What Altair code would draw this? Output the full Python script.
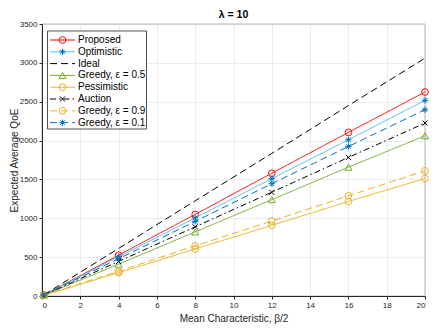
import altair as alt
import pandas as pd

x_vals = [0.1, 4, 8, 12, 16, 20]
series_names = ["Proposed", "Optimistic", "Ideal", "Greedy, \u03b5 = 0.5",
                "Pessimistic", "Auction", "Greedy, \u03b5 = 0.9", "Greedy, \u03b5 = 0.1"]
proposed = [13, 525, 1050, 1580, 2105, 2625]
optimistic = [13, 505, 1005, 1510, 2010, 2517]
ideal = [15, 612, 1225, 1835, 2450, 3060]
greedy05 = [10, 410, 825, 1240, 1658, 2062]
pessimistic = [8, 300, 605, 910, 1216, 1512]
auction = [11, 445, 890, 1335, 1783, 2225]
greedy09 = [8, 320, 645, 965, 1289, 1611]
greedy01 = [12, 480, 960, 1445, 1924, 2397]
values = [proposed, optimistic, ideal, greedy05, pessimistic, auction, greedy09, greedy01]
x_ticks = list(range(0, 21, 2))
y_ticks = list(range(0, 3501, 500))

ASTER = "M0,-1L0,1M-1,0L1,0M-0.7,-0.7L0.7,0.7M-0.7,0.7L0.7,-0.7"
XMARK = "M-0.8,-0.8L0.8,0.8M-0.8,0.8L0.8,-0.8"
styles = [
    dict(color="#FF0000", mcolor="#FF0000", dash=[1, 0], shape="circle", size=45),
    dict(color="#4DBEEE", mcolor="#0072BD", dash=[1, 0], shape=ASTER, size=40),
    dict(color="#000000", mcolor=None, dash=[7, 4], shape=None, size=0),
    dict(color="#77AC30", mcolor="#77AC30", dash=[1, 0], shape="triangle-up", size=50),
    dict(color="#EDB120", mcolor="#EDB120", dash=[1, 0], shape="circle", size=45),
    dict(color="#000000", mcolor="#000000", dash=[6, 3, 1.5, 3], shape=XMARK, size=40),
    dict(color="#EDB120", mcolor="#EDB120", dash=[7, 4], shape="circle", size=45),
    dict(color="#0072BD", mcolor="#0072BD", dash=[7, 4], shape=ASTER, size=40),
]

rows = []
for name, vals in zip(series_names, values):
    for xv, yv in zip(x_vals, vals):
        rows.append({"series": name, "x": xv, "y": yv})
df = pd.DataFrame(rows)

xscale = alt.Scale(domain=[0, 20], nice=False, zero=False)
yscale = alt.Scale(domain=[0, 3500], nice=False)
font = "Liberation Sans"

x_axis = alt.Axis(values=x_ticks, title="Mean Characteristic, \u03b2/2", format="d",
                  labelOverlap=False, titlePadding=4)
y_axis = alt.Axis(values=y_ticks, title="Expected Average QoE", format="d",
                  labelOverlap=False, titlePadding=0)

def X(field="x"):
    return alt.X(f"{field}:Q", scale=xscale, axis=x_axis)

def Y(field="y"):
    return alt.Y(f"{field}:Q", scale=yscale, axis=y_axis)

layers = []
for name, st in zip(series_names, styles):
    sub = df[df.series == name]
    layers.append(alt.Chart(sub).mark_line(color=st["color"], strokeDash=st["dash"], strokeWidth=1).encode(
        x=X(), y=Y(), order="x:Q"))
    if st["shape"]:
        layers.append(alt.Chart(sub).mark_point(shape=st["shape"], size=st["size"], filled=False,
                                                color=st["mcolor"], strokeWidth=1, opacity=1).encode(
            x=X(), y=Y()))

# legend (in data coordinates)
px_per_x = 383 / 20
val_per_px = 3500 / 272
def dx(px):
    return (px - 42) / px_per_x
def dy(py):
    return (296 - py) * val_per_px

legend_box = pd.DataFrame([{"x0": dx(47.5), "x1": dx(146.5), "y0": dy(31), "y1": dy(129)}])
layers.append(alt.Chart(legend_box).mark_rect(fill="white", stroke="#262626", strokeWidth=0.8).encode(
    x=X("x0"), x2="x1:Q", y=Y("y0"), y2="y1:Q"))

for i, (name, st) in enumerate(zip(series_names, styles)):
    ly = dy(40 + i * 11.8)
    seg = pd.DataFrame([{"x": dx(50), "y": ly}, {"x": dx(75), "y": ly}])
    layers.append(alt.Chart(seg).mark_line(color=st["color"], strokeDash=st["dash"], strokeWidth=1).encode(
        x=X(), y=Y()))
    if st["shape"]:
        mk = pd.DataFrame([{"x": dx(62.5), "y": ly}])
        layers.append(alt.Chart(mk).mark_point(shape=st["shape"], size=st["size"], filled=False,
                                               color=st["mcolor"], strokeWidth=1, opacity=1).encode(
            x=X(), y=Y()))
    tx = pd.DataFrame([{"x": dx(78), "y": ly, "label": name}])
    layers.append(alt.Chart(tx).mark_text(align="left", baseline="middle", fontSize=10, font=font,
                                          color="#000000").encode(
        x=X(), y=Y(), text="label:N"))

chart = alt.layer(*layers).properties(
    width=383, height=272,
    title=alt.TitleParams("\u03bb = 10", fontSize=10.5, fontWeight="bold", font=font, color="#000000",
                          offset=0, anchor="middle"),
    autosize=alt.AutoSizeParams(type="none"),
    padding={"left": 34, "top": 16, "right": 10, "bottom": 28},
).configure_view(stroke="#262626", strokeWidth=0.8).configure_axis(
    grid=True, gridColor="#E6E6E6", gridWidth=0.8, tickSize=3, tickColor="#262626", labelPadding=2,
    domainColor="#262626", labelColor="#262626", labelFontSize=8, labelFont=font,
    titleFontSize=10, titleFontWeight="normal", titleColor="#262626", titleFont=font,
)

chart.save("out.html", embed_options={"renderer": "svg", "actions": False})
